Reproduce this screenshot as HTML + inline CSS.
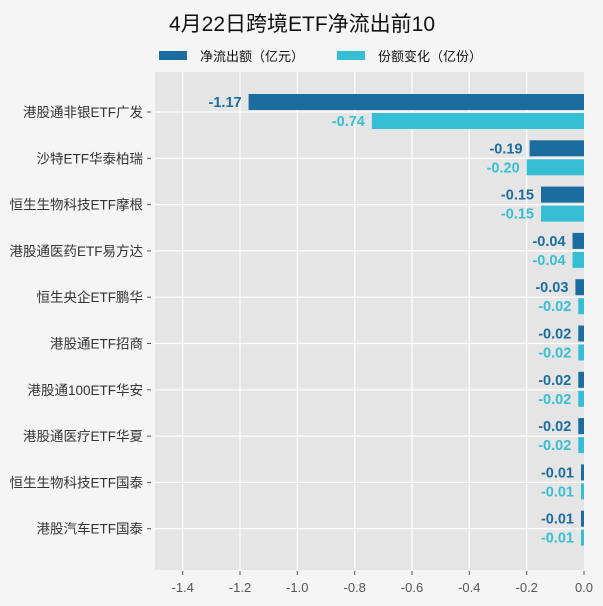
<!DOCTYPE html><html><head><meta charset="utf-8"><style>body{margin:0;background:#f5f5f5}svg{display:block}text{font-family:"Liberation Sans","Noto Sans CJK SC",sans-serif}</style></head><body>
<svg width="603" height="606" xmlns="http://www.w3.org/2000/svg">
<rect width="603" height="606" fill="#f5f5f5"/>
<text x="302" y="31" text-anchor="middle" font-size="21" fill="#111">4月22日跨境ETF净流出前10</text>
<rect x="159" y="51" width="28" height="9" fill="#1a6d9e"/><text x="200" y="61" font-size="13" fill="#111">净流出额（亿元）</text>
<rect x="337" y="51" width="28" height="9" fill="#36bfd4"/><text x="378" y="61" font-size="13" fill="#111">份额变化（亿份）</text>
<rect x="155" y="72" width="429" height="498" fill="#e5e5e5"/>
<g stroke="#fff" stroke-width="1.2">
<line x1="182.7" y1="72" x2="182.7" y2="570"/><line x1="240" y1="72" x2="240" y2="570"/><line x1="297.3" y1="72" x2="297.3" y2="570"/><line x1="354.7" y1="72" x2="354.7" y2="570"/><line x1="412" y1="72" x2="412" y2="570"/><line x1="469.3" y1="72" x2="469.3" y2="570"/><line x1="526.7" y1="72" x2="526.7" y2="570"/>
<line x1="155" y1="112" x2="584" y2="112"/><line x1="155" y1="158.3" x2="584" y2="158.3"/><line x1="155" y1="204.6" x2="584" y2="204.6"/><line x1="155" y1="250.9" x2="584" y2="250.9"/><line x1="155" y1="297.2" x2="584" y2="297.2"/><line x1="155" y1="343.5" x2="584" y2="343.5"/><line x1="155" y1="389.8" x2="584" y2="389.8"/><line x1="155" y1="436.1" x2="584" y2="436.1"/><line x1="155" y1="482.4" x2="584" y2="482.4"/><line x1="155" y1="528.7" x2="584" y2="528.7"/>
</g>
<g id="bars" font-size="14.5" font-weight="bold"></g>
<g font-size="13" fill="#555" text-anchor="middle">
<text x="182.7" y="592">-1.4</text><text x="240" y="592">-1.2</text><text x="297.3" y="592">-1.0</text><text x="354.7" y="592">-0.8</text><text x="412" y="592">-0.6</text><text x="469.3" y="592">-0.4</text><text x="526.7" y="592">-0.2</text><text x="584" y="592">0.0</text>
</g>
<g stroke="#555"><line x1="182.7" y1="571" x2="182.7" y2="575"/><line x1="240" y1="571" x2="240" y2="575"/><line x1="297.3" y1="571" x2="297.3" y2="575"/><line x1="354.7" y1="571" x2="354.7" y2="575"/><line x1="412" y1="571" x2="412" y2="575"/><line x1="469.3" y1="571" x2="469.3" y2="575"/><line x1="526.7" y1="571" x2="526.7" y2="575"/><line x1="584" y1="571" x2="584" y2="575"/></g>
<g id="cats" font-size="13.5" fill="#333" text-anchor="end"></g>
</svg>
<script>
var names=["港股通非银ETF广发","沙特ETF华泰柏瑞","恒生生物科技ETF摩根","港股通医药ETF易方达","恒生央企ETF鹏华","港股通ETF招商","港股通100ETF华安","港股通医疗ETF华夏","恒生生物科技ETF国泰","港股汽车ETF国泰"];
var a=[1.17,0.19,0.15,0.04,0.03,0.02,0.02,0.02,0.01,0.01],b=[0.74,0.20,0.15,0.04,0.02,0.02,0.02,0.02,0.01,0.01];
var ns="http://www.w3.org/2000/svg",g=document.getElementById("bars"),c=document.getElementById("cats");
function el(t,p,par,txt){var e=document.createElementNS(ns,t);for(var k in p)e.setAttribute(k,p[k]);if(txt)e.textContent=txt;par.appendChild(e);}
for(var i=0;i<10;i++){var y=112+i*46.3,s=286.67;
var w1=Math.max(a[i]*s,3),w2=Math.max(b[i]*s,3);
el("rect",{x:584-w1,y:y-18,width:w1,height:16,fill:"#1a6d9e"},g);
el("rect",{x:584-w2,y:y+1,width:w2,height:16,fill:"#36bfd4"},g);
el("text",{x:584-w1-7,y:y-5,"text-anchor":"end",fill:"#1a6d9e"},g,"-"+a[i].toFixed(2));
el("text",{x:584-w2-7,y:y+14,"text-anchor":"end",fill:"#36bfd4"},g,"-"+b[i].toFixed(2));
el("text",{x:143,y:y+5},c,names[i]);
el("line",{x1:147,y1:y,x2:151,y2:y,stroke:"#555"},c);}
</script>
</body></html>
